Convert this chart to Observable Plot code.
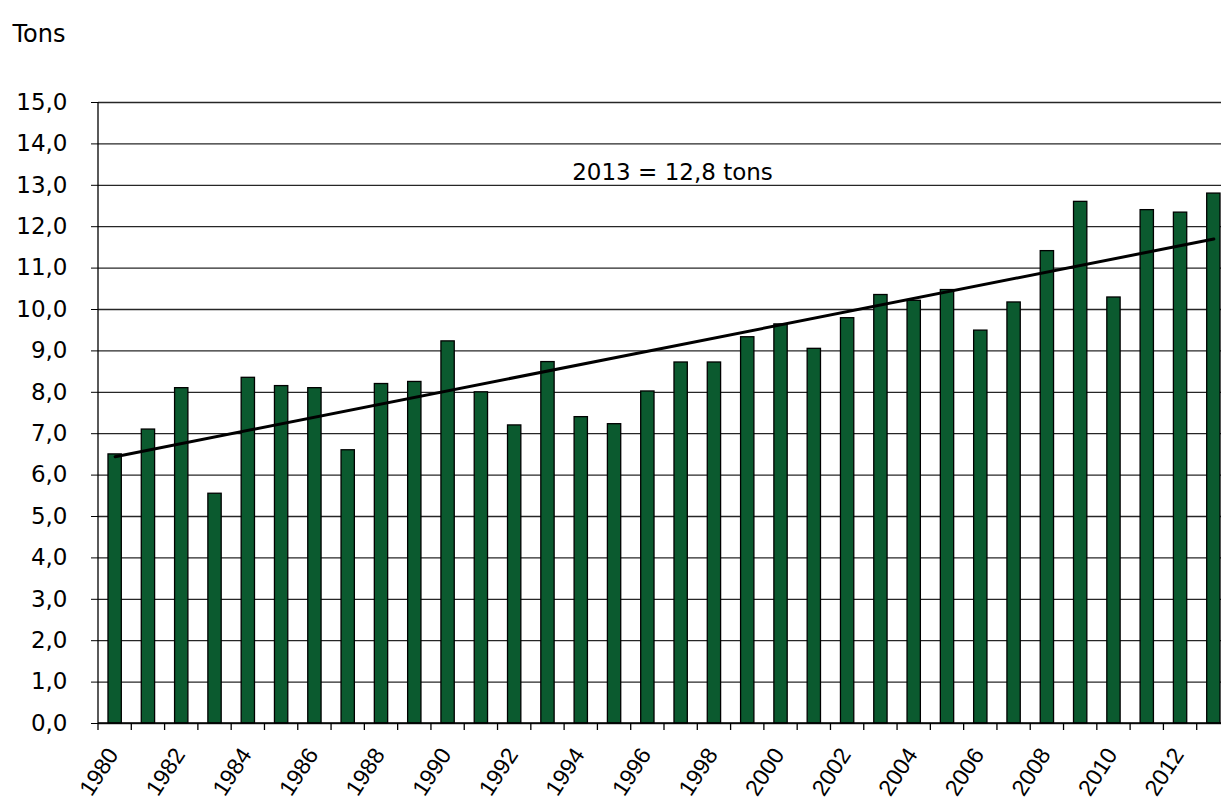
<!DOCTYPE html>
<html>
<head>
<meta charset="utf-8">
<script src="https://cdn.jsdelivr.net/npm/d3@7"></script>
<script src="https://cdn.jsdelivr.net/npm/@observablehq/plot@0.6"></script>
<style>
  html, body { margin: 0; padding: 0; background: #fff; overflow: hidden; }
  #chart { width: 1221px; height: 801px; overflow: hidden; }
  #chart svg { display: block; overflow: hidden; }
</style>
</head>
<body>
<div id="chart"></div>
<script>
// ---- data ----
const years = [1980,1981,1982,1983,1984,1985,1986,1987,1988,1989,
               1990,1991,1992,1993,1994,1995,1996,1997,1998,1999,
               2000,2001,2002,2003,2004,2005,2006,2007,2008,2009,
               2010,2011,2012,2013];
const values = [6.5, 7.1, 8.1, 5.55, 8.35, 8.15, 8.1, 6.6, 8.2, 8.25,
                9.23, 8.0, 7.2, 8.73, 7.4, 7.23, 8.02, 8.72, 8.72, 9.33,
                9.64, 9.05, 9.79, 10.35, 10.21, 10.47, 9.49, 10.17, 11.41, 12.6,
                10.29, 12.4, 12.34, 12.8];
const yTicks = [0,1,2,3,4,5,6,7,8,9,10,11,12,13,14,15];
const xLabels = [1980,1982,1984,1986,1988,1990,1992,1994,1996,1998,2000,2002,2004,2006,2008,2010,2012];
const unitLabel = ["Tons"];
const annotation = ["2013 = 12,8 tons"];

const data = years.map((year, i) => ({year, value: values[i]}));

// least-squares trend line over the series (index-based, like a spreadsheet trendline)
const n = values.length;
const xs = d3.range(n);
const mx = d3.mean(xs), my = d3.mean(values);
const slope = d3.sum(xs, (x, i) => (x - mx) * (values[i] - my)) / d3.sum(xs, x => (x - mx) ** 2);
const intercept = my - slope * mx;
const trend = [0, n - 1].map(i => ({year: years[i], value: intercept + slope * i}));

const fmt = d => d3.format(".1f")(d).replace(".", ",");
const font = "'DejaVu Sans', 'Liberation Sans', Arial, sans-serif";
const fontNarrow = "'Liberation Sans', Arial, sans-serif";

// axis decorations: left axis line, baseline and x tick marks at category boundaries
function decor(index, scales, values, dims) {
  const g = d3.create("svg:g").attr("stroke", "#000").attr("stroke-width", 1.3);
  const left = dims.marginLeft, right = dims.width - dims.marginRight;
  const top = dims.marginTop, bottom = dims.height - dims.marginBottom;
  const step = (right - left) / years.length;
  g.append("line").attr("x1", left).attr("x2", left).attr("y1", top).attr("y2", bottom);
  g.append("line").attr("x1", left).attr("x2", right).attr("y1", bottom).attr("y2", bottom);
  for (let i = 0; i <= years.length; i++) {
    const x = left + i * step;
    g.append("line").attr("x1", x).attr("x2", x).attr("y1", bottom).attr("y2", bottom + 7);
  }
  return g.node();
}

const chart = Plot.plot({
  width: 1221,
  height: 801,
  marginLeft: 98,
  marginRight: -9,
  marginTop: 102,
  marginBottom: 78,
  style: {fontFamily: font, fontSize: "23px", color: "#000", background: "#fff"},
  x: {type: "band", domain: years, paddingInner: 0.6, paddingOuter: 0.3, round: false, label: null},
  y: {domain: [0, 15], label: null},
  marks: [
    Plot.gridY(yTicks, {stroke: "#000", strokeOpacity: 0.85, strokeWidth: 1.3}),
    Plot.axisY({ticks: yTicks, tickFormat: fmt, tickSize: 7, tickPadding: 24, fontSize: 23, label: null}),
    Plot.axisX({ticks: xLabels, tickFormat: d => String(d), tickSize: 0, tickRotate: -57, tickPadding: 27, dx: -2,
                fontSize: 23, fontFamily: fontNarrow, label: null}),
    Plot.barY(data, {x: "year", y: "value", fill: "#0b5a2f", stroke: "#000", strokeWidth: 1.3}),
    Plot.line(trend, {x: "year", y: "value", stroke: "#000", strokeWidth: 3}),
    decor,
    Plot.text(annotation, {frameAnchor: "top", dx: 8, dy: 61, fontSize: 23, fill: "#000"}),
    Plot.text(unitLabel, {frameAnchor: "top-left", textAnchor: "start", dx: -86, dy: -78, fontSize: 24, fill: "#000"})
  ]
});
document.getElementById("chart").appendChild(chart);
</script>
</body>
</html>
